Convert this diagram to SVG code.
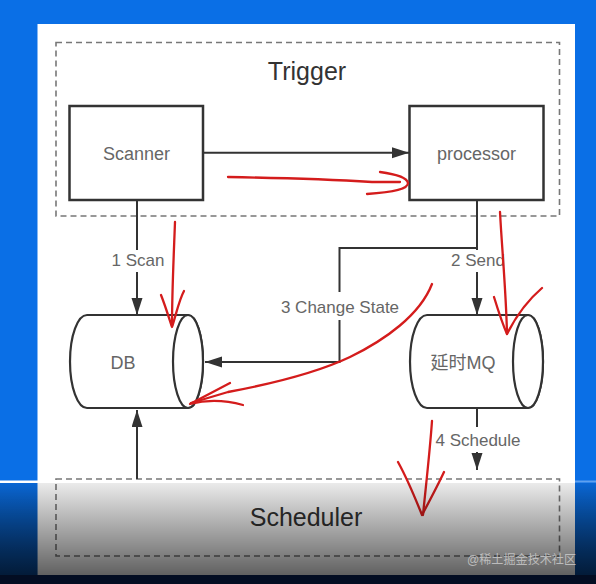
<svg xmlns="http://www.w3.org/2000/svg" width="596" height="584" viewBox="0 0 596 584">
<defs>
<style>
.box{fill:#fff;stroke:#333;stroke-width:2.5}
.dash{fill:none;stroke:#777;stroke-width:1.6;stroke-dasharray:6 4}
.cyl{fill:#fff;stroke:#333;stroke-width:2.2}
.ln{fill:none;stroke:#333;stroke-width:2}
.lbl{font-family:"Liberation Sans","Noto Sans CJK SC",sans-serif;font-size:17px;fill:#666;text-anchor:middle}
.nl{font-family:"Liberation Sans","Noto Sans CJK SC",sans-serif;font-size:18px;fill:#666;text-anchor:middle}
.big{font-family:"Liberation Sans","Noto Sans CJK SC",sans-serif;font-size:25px;fill:#333;text-anchor:middle}
.red{fill:none;stroke:#d41c1c;stroke-width:2.3;stroke-linecap:round;stroke-linejoin:round}
</style>
<marker id="ah" markerUnits="userSpaceOnUse" markerWidth="18" markerHeight="12" refX="17" refY="5.5" orient="auto">
<path d="M0,0 L17,5.5 L0,11 z" fill="#333"/>
</marker>
<linearGradient id="shade" x1="0" y1="0" x2="0" y2="1">
<stop offset="0" stop-color="#000" stop-opacity="0.08"/>
<stop offset="1" stop-color="#000" stop-opacity="0.62"/>
</linearGradient>
<linearGradient id="shadeb" x1="0" y1="0" x2="0" y2="1">
<stop offset="0" stop-color="#000" stop-opacity="0"/>
<stop offset="1" stop-color="#000" stop-opacity="0.35"/>
</linearGradient>
</defs>
<rect x="0" y="0" width="596" height="584" fill="#0a6fe6"/>
<rect x="37.5" y="24" width="537.5" height="556" fill="#fff"/>

<g id="trigger">
<rect class="dash" x="56" y="42.5" width="503.5" height="173.5"/>
<text class="big" x="307" y="80">Trigger</text>
</g>
<g id="scanner">
<rect class="box" x="69.5" y="106" width="133.5" height="94"/>
<text class="nl" x="136.5" y="160">Scanner</text>
</g>
<g id="processor">
<rect class="box" x="409.5" y="106" width="134" height="94"/>
<text class="nl" x="476.5" y="160">processor</text>
</g>
<g id="db">
<path class="cyl" d="M87,315 L188,315 A15,46.5 0 0 1 188,408 L87,408 A17,46.5 0 0 1 87,315 z"/>
<ellipse class="cyl" cx="188" cy="361.5" rx="15" ry="46.5"/>
<text class="nl" x="123" y="369">DB</text>
</g>
<g id="mq">
<path class="cyl" d="M427,315 L528,315 A15,46.5 0 0 1 528,408 L427,408 A17,46.5 0 0 1 427,315 z"/>
<ellipse class="cyl" cx="528" cy="361.5" rx="15" ry="46.5"/>
<text class="nl" x="463" y="369">延时MQ</text>
</g>
<g id="scheduler">
<rect class="dash" x="56" y="479" width="503.5" height="77"/>
<text class="big" x="306" y="526">Scheduler</text>
</g>

<g id="connectors">
<line class="ln" x1="203" y1="152.7" x2="409" y2="152.7" marker-end="url(#ah)"/>
<line class="ln" x1="137" y1="200" x2="137" y2="250"/>
<line class="ln" x1="137" y1="272" x2="137" y2="315" marker-end="url(#ah)"/>
<text class="lbl" x="138" y="266">1 Scan</text>
<line class="ln" x1="477" y1="200" x2="477" y2="250"/>
<line class="ln" x1="477" y1="272" x2="477" y2="315" marker-end="url(#ah)"/>
<text class="lbl" x="478" y="266">2 Send</text>
<polyline class="ln" points="477,248 339.5,248 339.5,292"/>
<polyline class="ln" points="339.5,320 339.5,362 205,362" marker-end="url(#ah)"/>
<text class="lbl" x="340" y="313">3 Change State</text>
<line class="ln" x1="477" y1="409" x2="477" y2="427"/>
<text class="lbl" x="478" y="446">4 Schedule</text>
<line class="ln" x1="477" y1="452" x2="477" y2="470" marker-end="url(#ah)"/>
<line class="ln" x1="137" y1="479" x2="137" y2="410" marker-end="url(#ah)"/>
</g>

<g id="annotations">
<path class="red" d="M228,177 C290,178 340,180 372,182 L400,182"/>
<path class="red" d="M380,172 C395,174 407,177 408,183 C408,189 395,192 367,194"/>
<path class="red" d="M175,222 C174,250 172,290 172,326"/>
<path class="red" d="M161,295 C165,305 169,318 172,327 C176,315 179,300 184,291"/>
<path class="red" d="M500,212 C502,250 506,290 507,334"/>
<path class="red" d="M494,297 C498,310 503,325 507,334 C515,318 528,300 542,288"/>
<path class="red" d="M432,284 C420,315 385,340 350,357 C310,376 260,386 228,392 L191,403"/>
<path class="red" d="M230,383 L190,404 C205,400 225,400 243,405"/>
<path class="red" d="M432,421 C430,450 426,485 423,515"/>
<path class="red" d="M398,462 C408,480 416,500 422,515 C430,500 438,485 444,472"/>
</g>

<rect x="0" y="483" width="596" height="92" fill="url(#shade)"/>
<rect x="0" y="483" width="37.5" height="92" fill="url(#shadeb)"/>
<rect x="575" y="483" width="21" height="92" fill="url(#shadeb)"/>
<rect x="0" y="480.5" width="38" height="2.5" fill="#fff"/>
<rect x="575" y="480.5" width="21" height="2" fill="#fff" fill-opacity="0.35"/>
<rect x="0" y="575" width="596" height="9" fill="#030d22"/>
<text x="467" y="564" font-family="Liberation Sans, Noto Sans CJK SC, sans-serif" font-size="12.5" textLength="109" lengthAdjust="spacingAndGlyphs" fill="#d0d0d0" fill-opacity="0.8">@稀土掘金技术社区</text>
</svg>
